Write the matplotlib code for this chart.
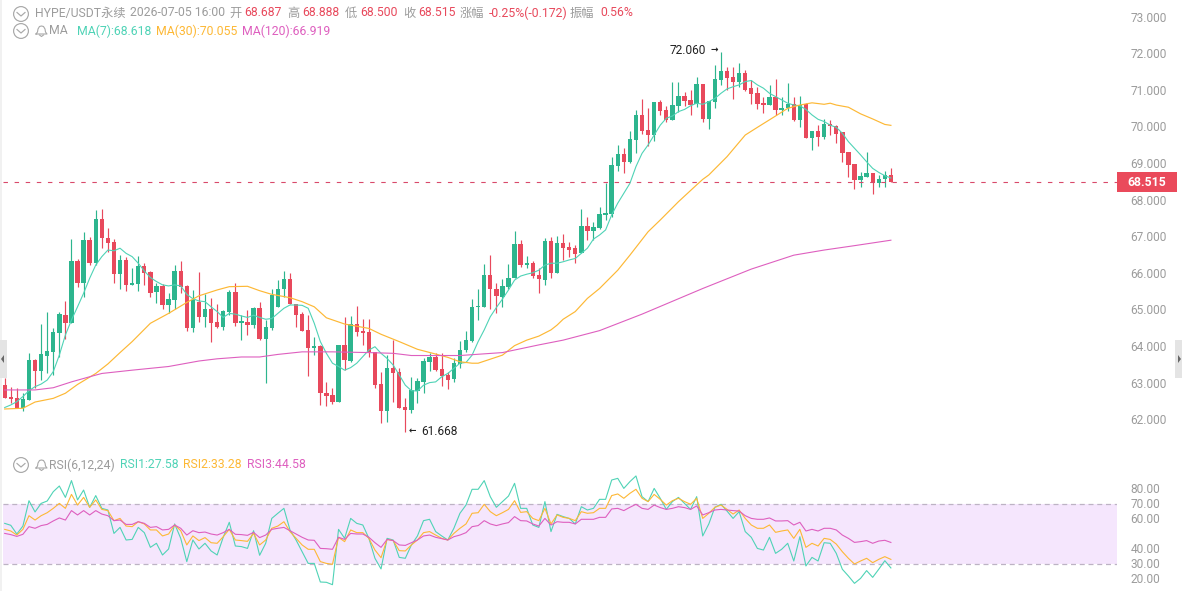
import matplotlib
matplotlib.use('Agg')
import matplotlib.pyplot as plt
from matplotlib.patches import Circle, Rectangle, Polygon
from matplotlib.transforms import ScaledTranslation

plt.rcParams['font.family'] = ['Roboto', 'Noto Sans CJK SC', 'DejaVu Sans']

opens = [
    62.96, 62.64, 62.60, 62.35, 62.55, 63.65, 63.35, 63.76, 63.87, 64.39,
    64.87, 64.67, 66.35, 65.76, 66.92, 66.29, 67.50, 66.99, 66.87, 65.99,
    66.38, 65.70, 65.72, 66.21, 66.05, 65.50, 65.67, 65.15, 65.29, 66.08,
    65.67, 64.51, 65.24, 64.83, 65.03, 64.68, 64.55, 64.95, 65.50, 64.67,
    64.69, 64.60, 65.07, 64.23, 64.52, 65.09, 65.58, 65.86, 65.19, 64.90,
    64.47, 63.98, 64.03, 62.74, 62.69, 62.51, 64.06, 63.63, 64.62, 64.44,
    64.41, 63.87, 62.99, 62.26, 63.44, 63.31, 62.36, 62.28, 62.81, 63.05,
    63.59, 63.72, 63.40, 63.23, 63.13, 63.54, 63.92, 64.17, 65.09, 65.10,
    65.97, 65.59, 65.38, 65.64, 65.90, 66.81, 66.25, 66.29, 65.97, 65.83,
    66.90, 66.03, 66.83, 66.73, 66.70, 66.56, 67.31, 67.18, 67.26, 67.61,
    67.63, 68.95, 69.26, 69.05, 69.66, 70.34, 69.93, 69.79, 70.69, 70.47,
    70.20, 70.58, 70.86, 70.75, 70.63, 71.18, 70.24, 70.70, 71.29, 71.54,
    71.38, 71.25, 71.48, 71.07, 70.93, 70.67, 70.61, 70.84, 70.48, 70.52,
    70.63, 70.20, 70.64, 69.72, 69.90, 69.74, 70.09, 70.04, 69.86, 69.33,
    69.00, 68.56, 68.65, 68.75, 68.49, 68.58, 68.687,
]
closes = [
    62.62, 62.58, 62.35, 62.58, 63.65, 63.35, 63.81, 63.89, 64.41, 64.90,
    64.67, 66.35, 65.76, 66.92, 66.29, 67.50, 66.97, 66.83, 65.99, 66.38,
    65.70, 65.74, 66.21, 66.03, 65.49, 65.67, 65.15, 65.31, 66.08, 65.65,
    64.53, 65.29, 64.83, 65.03, 64.67, 64.55, 64.99, 65.51, 64.67, 64.71,
    64.61, 65.07, 64.22, 64.55, 65.43, 65.59, 65.86, 65.18, 64.87, 64.45,
    63.97, 64.03, 62.74, 62.67, 62.50, 64.06, 63.65, 64.62, 64.42, 64.39,
    63.87, 62.96, 62.26, 63.44, 63.30, 62.35, 62.29, 62.83, 63.07, 63.61,
    63.72, 63.37, 63.22, 63.10, 63.57, 63.92, 64.19, 65.09, 65.12, 65.97,
    65.58, 65.39, 65.66, 65.90, 66.81, 66.25, 66.30, 65.94, 65.85, 66.90,
    66.03, 66.83, 66.70, 66.65, 66.55, 67.31, 67.18, 67.27, 67.64, 67.65,
    68.97, 69.26, 69.06, 69.67, 70.34, 69.91, 69.79, 70.68, 70.46, 70.20,
    70.61, 70.86, 70.72, 70.61, 71.18, 70.22, 70.72, 71.31, 71.54, 71.35,
    71.24, 71.48, 71.02, 70.92, 70.64, 70.62, 70.84, 70.47, 70.53, 70.63,
    70.20, 70.61, 69.72, 69.90, 69.74, 70.09, 70.04, 69.82, 69.31, 68.97,
    68.56, 68.68, 68.75, 68.49, 68.59, 68.70, 68.515,
]
highs = [
    63.15, 62.90, 62.87, 62.76, 63.83, 63.67, 64.63, 64.96, 64.51, 64.97,
    65.27, 66.95, 66.40, 67.15, 67.01, 67.74, 67.77, 67.24, 66.94, 66.51,
    66.45, 66.15, 66.50, 66.30, 66.08, 65.74, 65.72, 65.47, 66.24, 66.35,
    65.70, 65.56, 66.05, 65.44, 65.33, 65.19, 65.01, 65.56, 65.74, 64.87,
    65.01, 65.10, 65.22, 64.74, 65.58, 65.83, 66.08, 66.01, 65.19, 64.97,
    64.87, 64.27, 64.06, 63.05, 62.87, 64.06, 64.83, 64.86, 65.13, 64.78,
    64.78, 63.87, 63.31, 63.78, 64.19, 63.42, 62.60, 63.19, 63.16, 63.69,
    63.85, 63.83, 63.83, 63.33, 63.69, 64.17, 64.45, 65.30, 65.58, 66.27,
    66.51, 65.74, 65.85, 66.27, 67.18, 66.92, 66.49, 66.35, 66.15, 66.99,
    67.00, 67.04, 67.08, 66.88, 66.79, 67.77, 67.54, 67.42, 67.83, 68.49,
    69.18, 69.52, 69.45, 69.89, 70.47, 70.77, 70.52, 70.68, 70.75, 70.57,
    71.23, 71.24, 70.96, 71.02, 71.37, 71.18, 70.72, 71.70, 72.060, 71.66,
    71.66, 71.75, 71.57, 71.29, 71.11, 70.84, 71.16, 71.31, 70.84, 71.22,
    70.84, 70.86, 70.67, 69.91, 70.07, 70.22, 70.20, 70.06, 69.88, 69.33,
    69.00, 68.79, 69.34, 68.76, 68.70, 68.82, 68.888,
]
lows = [
    62.60, 62.46, 62.33, 62.26, 62.55, 62.87, 63.10, 63.28, 63.24, 63.74,
    64.22, 64.67, 65.65, 65.38, 66.24, 66.24, 66.70, 66.61, 65.74, 65.59,
    65.54, 65.70, 65.54, 65.70, 65.38, 65.21, 65.03, 64.92, 65.03, 65.49,
    64.45, 64.40, 64.69, 64.54, 64.15, 64.51, 64.47, 64.87, 64.58, 64.19,
    64.33, 64.51, 64.19, 63.01, 64.48, 65.09, 65.38, 65.18, 64.54, 64.45,
    63.21, 63.78, 62.42, 62.39, 62.45, 62.51, 63.37, 63.58, 64.30, 64.06,
    63.74, 62.87, 61.93, 61.96, 62.51, 62.33, 61.668, 62.19, 62.48, 62.76,
    63.35, 63.36, 62.94, 62.85, 63.05, 63.42, 63.87, 64.15, 64.74, 65.10,
    65.04, 64.92, 65.09, 65.60, 65.88, 66.20, 66.15, 65.88, 65.49, 65.70,
    65.88, 66.03, 66.38, 66.47, 66.29, 66.56, 66.92, 66.92, 67.22, 67.47,
    67.56, 68.81, 68.76, 69.02, 69.29, 69.81, 69.49, 69.64, 70.34, 70.16,
    70.20, 70.41, 70.58, 70.34, 70.55, 70.16, 69.95, 70.54, 71.16, 71.02,
    70.77, 71.11, 71.00, 70.64, 70.50, 70.40, 70.61, 70.34, 70.34, 70.46,
    70.17, 70.02, 69.70, 69.38, 69.49, 69.67, 69.79, 69.56, 69.06, 68.65,
    68.31, 68.36, 68.65, 68.17, 68.36, 68.36, 68.500,
]

ma7 = [
    62.35, 62.42, 62.51, 62.65, 62.81, 62.92, 62.99, 63.10, 63.33, 63.78,
    64.33, 64.74, 65.10, 65.47, 65.88, 66.24, 66.47, 66.65, 66.63, 66.70,
    66.56, 66.47, 66.29, 66.08, 65.90, 65.79, 65.70, 65.67, 65.70, 65.67,
    65.44, 65.32, 65.26, 65.24, 65.10, 64.97, 64.81, 64.92, 64.90, 64.85,
    64.81, 64.87, 64.81, 64.76, 64.78, 64.92, 65.06, 65.15, 65.15, 65.14,
    65.06, 64.65, 64.15, 63.83, 63.56, 63.47, 63.37, 63.44, 63.56, 63.74,
    63.92, 64.01, 63.83, 63.69, 63.51, 63.24, 62.96, 62.81, 62.80, 62.96,
    63.03, 63.05, 63.19, 63.28, 63.42, 63.56, 63.58, 63.78, 64.15, 64.47,
    64.83, 65.08, 65.31, 65.56, 65.83, 65.94, 65.99, 66.03, 66.10, 66.24,
    66.29, 66.29, 66.33, 66.38, 66.42, 66.56, 66.70, 66.95, 67.06, 67.20,
    67.61, 67.93, 68.20, 68.47, 68.93, 69.29, 69.52, 69.79, 70.06, 70.25,
    70.31, 70.43, 70.49, 70.59, 70.66, 70.63, 70.70, 70.79, 70.93, 71.05,
    71.11, 71.16, 71.25, 71.28, 71.16, 71.07, 70.93, 70.84, 70.75, 70.66,
    70.61, 70.59, 70.49, 70.34, 70.22, 70.16, 70.06, 70.00, 69.84, 69.61,
    69.43, 69.25, 69.06, 68.88, 68.77, 68.68, 68.618,
]

# the two slow averages are smooth, so they are kept at their bends only
ma30_idx = [
    0, 3, 5, 8, 10, 12, 15, 17, 19, 21, 24, 27, 30, 32, 35, 37, 40, 42, 44, 47,
    49, 51, 53, 56, 60, 62, 65, 68, 71, 73, 75, 77, 78, 80, 82, 84, 86, 88, 90,
    91, 92, 94, 96, 98, 101, 103, 106, 108, 111, 114, 115, 116, 119, 122, 124,
    127, 129, 131, 133, 135, 136, 137, 139, 141, 143, 145, 146,
]
ma30 = [
    62.31, 62.33, 62.50, 62.60, 62.74, 62.98, 63.28, 63.54, 63.85, 64.15, 64.65,
    64.92, 65.22, 65.40, 65.56, 65.65, 65.66, 65.54, 65.44, 65.35, 65.24, 65.10,
    64.80, 64.63, 64.51, 64.35, 64.15, 63.94, 63.81, 63.72, 63.60, 63.56, 63.56,
    63.67, 63.78, 64.04, 64.19, 64.30, 64.47, 64.60, 64.76, 64.97, 65.33, 65.60,
    66.10, 66.51, 67.15, 67.47, 67.97, 68.43, 68.58, 68.70, 69.20, 69.79, 70.00,
    70.31, 70.52, 70.61, 70.67, 70.63, 70.66, 70.61, 70.55, 70.37, 70.23, 70.08,
    70.055,
]
ma120_idx = [
    0, 5, 8, 11, 14, 16, 21, 27, 30, 32, 35, 39, 42, 45, 49, 54, 60, 64, 67, 75,
    82, 88, 92, 98, 105, 110, 115, 123, 130, 135, 140, 146,
]
ma120 = [
    62.83, 62.83, 62.89, 63.05, 63.19, 63.28, 63.37, 63.47, 63.56, 63.62, 63.68,
    63.73, 63.73, 63.80, 63.87, 63.87, 63.85, 63.83, 63.77, 63.77, 63.85, 64.06,
    64.19, 64.45, 64.90, 65.25, 65.60, 66.13, 66.51, 66.65, 66.77, 66.919,
]

rsi1 = [
    57.3, 56.0, 50.2, 55.5, 72.4, 64.9, 70.6, 72.2, 78.4, 82.2,
    74.6, 85.8, 72.9, 79.5, 68.0, 75.8, 67.3, 66.2, 50.6, 54.6,
    46.2, 46.6, 54.6, 51.1, 41.3, 44.0, 36.2, 40.2, 56.9, 47.3,
    31.8, 46.2, 40.2, 44.0, 38.9, 36.2, 48.0, 58.0, 42.2, 41.8,
    40.6, 52.4, 36.0, 44.0, 60.6, 64.0, 67.3, 52.9, 46.2, 38.4,
    30.6, 30.6, 18.2, 18.0, 16.4, 53.3, 47.3, 60.6, 57.3, 56.2,
    47.3, 34.0, 26.9, 47.3, 46.2, 34.6, 34.0, 42.9, 48.9, 59.1,
    60.0, 51.8, 48.9, 46.2, 54.0, 64.0, 69.5, 80.0, 80.0, 85.8,
    75.1, 68.0, 71.8, 75.5, 84.0, 67.3, 67.3, 56.2, 54.6, 71.8,
    51.8, 63.3, 61.8, 60.6, 56.9, 68.4, 66.2, 67.3, 73.3, 73.3,
    86.2, 87.3, 80.6, 85.1, 88.9, 75.1, 71.8, 80.6, 74.0, 66.6,
    71.8, 74.6, 70.6, 66.6, 75.1, 48.9, 56.9, 68.0, 70.0, 65.5,
    60.6, 65.1, 51.8, 48.0, 40.6, 39.5, 48.0, 37.3, 40.0, 44.0,
    32.2, 48.4, 28.9, 34.6, 32.2, 44.4, 44.0, 37.3, 26.7, 22.2,
    17.3, 20.6, 25.8, 21.3, 26.7, 32.4, 27.58,
]
rsi2 = [
    53.3, 52.2, 49.5, 53.3, 62.4, 59.5, 62.4, 64.4, 67.3, 70.6,
    67.3, 76.6, 69.5, 74.6, 68.0, 72.9, 66.6, 65.8, 59.1, 60.6,
    55.5, 55.1, 58.4, 56.9, 52.9, 52.9, 48.9, 50.2, 56.2, 52.4,
    42.9, 48.9, 45.8, 47.8, 44.4, 44.0, 48.4, 53.3, 46.2, 45.8,
    45.3, 50.6, 42.9, 46.2, 54.0, 55.5, 58.4, 51.8, 47.3, 42.9,
    40.0, 40.0, 31.8, 30.6, 30.0, 48.0, 45.1, 52.9, 51.1, 51.1,
    47.3, 39.5, 34.4, 46.6, 45.8, 39.1, 38.9, 42.9, 46.2, 51.1,
    51.8, 49.5, 47.3, 46.2, 50.6, 54.0, 56.9, 64.0, 64.4, 70.0,
    65.1, 62.4, 64.4, 66.6, 72.4, 64.6, 65.1, 60.6, 59.1, 67.3,
    56.9, 62.9, 61.3, 60.6, 59.1, 65.1, 64.0, 64.4, 67.3, 67.3,
    75.8, 76.9, 74.0, 77.3, 80.0, 74.0, 71.8, 76.6, 73.3, 69.5,
    72.4, 74.0, 71.8, 70.0, 74.0, 60.6, 64.0, 68.0, 69.5, 66.6,
    63.5, 66.2, 60.6, 56.2, 54.0, 54.0, 56.2, 51.3, 52.2, 52.9,
    47.3, 53.3, 41.3, 44.0, 42.2, 47.3, 46.6, 43.5, 38.4, 34.0,
    30.2, 32.2, 34.0, 31.1, 33.3, 35.1, 33.28,
]
rsi3 = [
    50.6, 49.8, 48.6, 50.0, 55.1, 54.0, 55.8, 56.6, 58.9, 60.9,
    59.5, 65.8, 62.9, 65.8, 62.9, 65.8, 63.5, 62.4, 59.1, 59.5,
    56.6, 56.6, 58.4, 57.3, 54.6, 55.1, 52.9, 53.3, 56.2, 54.0,
    49.5, 52.4, 51.1, 51.5, 50.2, 49.5, 51.1, 53.3, 50.0, 49.8,
    49.3, 51.3, 47.8, 49.5, 53.3, 54.0, 54.6, 52.4, 50.2, 48.0,
    46.2, 46.0, 40.6, 40.4, 40.0, 48.0, 46.6, 50.6, 50.2, 50.2,
    48.0, 44.4, 41.3, 46.6, 45.8, 42.9, 42.6, 44.4, 46.2, 48.9,
    49.5, 48.0, 47.1, 46.2, 48.4, 49.5, 51.1, 55.1, 55.8, 59.1,
    56.9, 55.8, 56.9, 57.8, 61.8, 59.1, 58.9, 56.9, 55.5, 60.6,
    56.2, 58.4, 58.0, 58.0, 56.9, 60.0, 60.0, 60.0, 61.3, 61.3,
    66.9, 67.3, 65.8, 68.0, 70.0, 67.3, 66.6, 69.5, 67.8, 66.6,
    67.3, 68.4, 67.8, 66.6, 68.9, 62.9, 64.4, 66.2, 66.6, 66.2,
    65.8, 65.5, 62.4, 60.6, 60.0, 60.0, 60.9, 58.9, 58.9, 59.1,
    56.2, 58.0, 52.2, 53.3, 52.2, 54.0, 54.0, 52.9, 49.5, 47.3,
    44.6, 45.1, 45.8, 44.0, 45.5, 46.0, 44.58,
]

price_ticks = [62, 63, 64, 65, 66, 67, 68, 69, 70, 71, 72, 73]
rsi_ticks = [20, 30, 40, 60, 70, 80]
last_price = closes[-1]
high_idx = highs.index(max(highs))
low_idx = lows.index(min(lows))

GREEN = '#2DB58E'
RED = '#E8495C'
GREY = '#9C9C9C'
TEAL = '#4FD3B6'
ORANGE = '#FDB835'
PINK = '#DE5FBF'
INK = '#222222'
W, H = 1182, 591

fig = plt.figure(figsize=(W / 100, H / 100), dpi=100, facecolor='white')


def add_axes_px(x0, x1, y0, y1):
    return fig.add_axes([x0 / W, 1 - y1 / H, (x1 - x0) / W, (y1 - y0) / H])


ax = add_axes_px(3, 1117, 0, 450)
ax_rsi = add_axes_px(3, 1117, 450, 591)
xlim = (-0.28, 183.25)

# candles
xs = list(range(len(opens)))
colors = [GREEN if c >= o else RED for o, c in zip(opens, closes)]
ax.vlines(xs, lows, highs, colors=colors, linewidth=0.85, zorder=2)
ax.bar(xs, [max(abs(c - o), 0.03) for o, c in zip(opens, closes)],
       bottom=[min(o, c) for o, c in zip(opens, closes)],
       width=0.72, color=colors, linewidth=0, zorder=3)

ax.plot(xs, ma7, color=TEAL, lw=0.8, zorder=4)
ax.plot(ma30_idx, ma30, color=ORANGE, lw=0.85, zorder=4)
ax.plot(ma120_idx, ma120, color=PINK, lw=0.8, zorder=4)
ax.axhline(last_price, color='#D9496B', lw=0.8, dashes=(4, 6), zorder=5)

ax.set_xlim(*xlim)
ax.set_ylim(61.19, 73.478)
ax.set_yticks(price_ticks)
ax.set_yticklabels(['%.3f' % t for t in price_ticks])

# extreme markers: the number and a small arrow pointing at the wick tip
ax.annotate('%.3f' % highs[high_idx], xy=(high_idx, highs[high_idx]),
            xytext=(-10.8, 1), textcoords='offset points', ha='right', va='center',
            fontsize=8.6, color=INK)
ax.annotate('→', xy=(high_idx, highs[high_idx]),
            xytext=(-2.2, 1.5), textcoords='offset points', ha='right', va='center',
            fontsize=6.5, color=INK, family='DejaVu Sans', weight='bold')
ax.annotate('%.3f' % lows[low_idx], xy=(low_idx, lows[low_idx]),
            xytext=(11.3, 1), textcoords='offset points', ha='left', va='center',
            fontsize=8.6, color=INK)
ax.annotate('←', xy=(low_idx, lows[low_idx]),
            xytext=(2.5, 1), textcoords='offset points', ha='left', va='center',
            fontsize=6.5, color=INK, family='DejaVu Sans', weight='bold')

# rsi pane
ax_rsi.axhspan(30, 70, color='#F5E6FD', lw=0, zorder=1)
for level in (30, 70):
    ax_rsi.axhline(level, color='#BDB3C4', lw=0.9, dashes=(4, 3), zorder=2)
ax_rsi.plot(xs, rsi1, color=TEAL, lw=0.8, zorder=3)
ax_rsi.plot(xs, rsi2, color=ORANGE, lw=0.8, zorder=4)
ax_rsi.plot(xs, rsi3, color=PINK, lw=0.8, zorder=5)
ax_rsi.set_xlim(*xlim)
ax_rsi.set_ylim(12.2, 106.2)
ax_rsi.set_yticks(rsi_ticks)
ax_rsi.set_yticklabels(['%.2f' % t for t in rsi_ticks])

nudge_up = ScaledTranslation(0, 1 / 100, fig.dpi_scale_trans)
for a in (ax, ax_rsi):
    a.patch.set_alpha(0)
    a.set_xticks([])
    a.yaxis.tick_right()
    a.tick_params(axis='y', length=0, pad=9.7, labelsize=8.6, labelcolor=GREY)
    for s in a.spines.values():
        s.set_visible(False)
    for t in a.get_yticklabels():
        t.set_transform(t.get_transform() + nudge_up)

# icons, side handles and the price tag live in a pixel-space overlay
ov = fig.add_axes([0, 0, 1, 1], zorder=10)
ov.set_xlim(0, W)
ov.set_ylim(H, 0)
ov.axis('off')

ov.add_patch(Rectangle((0, 0), 2, H, color='#F1F1F1', lw=0))
for x0, tip, base in ((0, 1, 4), (1175, 1181, 1178)):
    ov.add_patch(Rectangle((x0, 340), 7, 38, color='#E4E4E4', lw=0))
    ov.add_patch(Polygon([(tip, 359), (base, 355), (base, 363)], color='#666666', lw=0))

ov.add_patch(Rectangle((1117, 172), 60, 20, color='#EA4A5B', lw=0))
ov.text(1147, 182, '%.3f' % last_price, color='white', fontsize=8.8, weight='bold',
        ha='center', va='center')


def chevron_icon(cy):
    ov.add_patch(Circle((21, cy), 7.4, fill=False, ec='#A8A8A8', lw=0.85))
    ov.plot([17, 21, 25], [cy - 1.5, cy + 2, cy - 1.5], color='#A8A8A8', lw=0.85)


def bell_icon(cy):
    ov.plot([36, 37.5, 38, 39.5, 41.5, 43.5, 45, 45.5, 47, 36],
            [cy + 3, cy + 1, cy - 2, cy - 4.5, cy - 5, cy - 4.5, cy - 2, cy + 1, cy + 3, cy + 3],
            color='#A8A8A8', lw=0.8)
    ov.plot([39.5, 41.5, 43.5], [cy + 4, cy + 5.5, cy + 4], color='#A8A8A8', lw=0.8)


chevron_icon(14)
chevron_icon(31)
chevron_icon(465)
bell_icon(31)
bell_icon(465)

header = [
    (35, 13, 'HYPE/USDT永续', GREY), (130, 13, '2026-07-05 16:00', GREY),
    (229, 13, '开', GREY), (244, 13, '68.687', RED),
    (287, 13, '高', GREY), (302, 13, '68.888', RED),
    (345, 13, '低', GREY), (360, 13, '68.500', RED),
    (403, 13, '收', GREY), (418, 13, '68.515', RED),
    (460, 13, '涨幅', GREY), (489, 13, '-0.25%(-0.172)', RED),
    (570, 13, '振幅', GREY), (600, 13, '0.56%', RED),
    (49, 31, 'MA', GREY), (77, 31, 'MA(7):68.618', TEAL),
    (156, 31, 'MA(30):70.055', ORANGE), (242, 31, 'MA(120):66.919', PINK),
    (49, 465, 'RSI(6,12,24)', GREY), (120, 465, 'RSI1:27.58', TEAL),
    (183, 465, 'RSI2:33.28', ORANGE), (247, 465, 'RSI3:44.58', PINK),
]
for x, y, label, color in header:
    ov.text(x, y, label, color=color, fontsize=8.8, ha='left', va='center')

fig.savefig('out.png', dpi=100)
